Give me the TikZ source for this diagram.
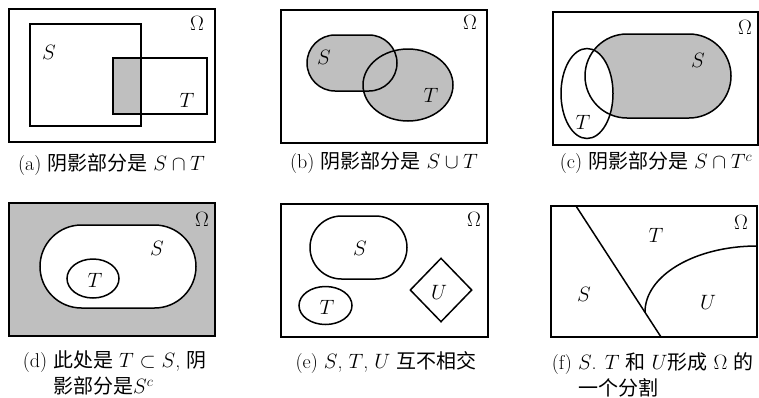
\documentclass[tikz,border=0pt]{standalone}
\usepackage{fontspec}
\newfontfamily\cjk{Noto Sans CJK SC}
\usetikzlibrary{shapes.geometric,shapes.misc}
\begin{document}
\begin{tikzpicture}[x=1pt, y=-1pt, line width=1.5pt, font=\fontsize{20}{26}\selectfont,
omega box/.style={draw,rectangle,inner sep=0pt,outer sep=0pt},
set box/.style={draw,rectangle,inner sep=0pt},
round set/.style={draw,rounded rectangle,inner sep=0pt},
oval set/.style={draw,ellipse,inner sep=0pt},
shaded/.style={fill=black!25},
set label/.style={inner sep=0pt},
caption/.style={inner sep=0pt,align=left}]
\useasboundingbox (0,0) rectangle (759,397);
% (a)
\begin{scope}
\node[omega box, minimum width=206pt, minimum height=133pt] (omA) at (112,75.5) {};
\node[shaded, inner sep=0pt, minimum width=28pt, minimum height=56pt] (aST) at (127,86) {};
\node[set box, minimum width=111pt, minimum height=102pt] (aS) at (85.5,75) {};
\node[set box, minimum width=94pt, minimum height=56pt] (aT) at (160,86) {};
\node[set label] (aSl) at (49,52) {$S$};
\node[set label] (aTl) at (187,100) {$T$};
\node[set label] (aOl) at (197,23) {$\Omega$};
\node[caption] (capA) at (111.5,165) {(a) {\cjk 阴影部分是} $S\cap T$};
\end{scope}
% (b)
\begin{scope}
\node[omega box, minimum width=206pt, minimum height=133pt] (omB) at (384,76.5) {};
\node[round set, draw=none, shaded, minimum width=90pt, minimum height=56pt] at (352,63) {};
\node[oval set, draw=none, shaded, minimum width=90pt, minimum height=72pt] at (408,85) {};
\node[round set, minimum width=90pt, minimum height=56pt] (bS) at (352,63) {};
\node[oval set, minimum width=90pt, minimum height=72pt] (bT) at (408,85) {};
\node[set label] (bSl) at (324,57) {$S$};
\node[set label] (bTl) at (431,95) {$T$};
\node[set label] (bOl) at (470,22) {$\Omega$};
\node[caption] (capB) at (384,163) {(b) {\cjk 阴影部分是} $S\cup T$};
\end{scope}
% (c)
\begin{scope}
\node[omega box, minimum width=205pt, minimum height=133pt] (omC) at (655.5,78.5) {};
\node[round set, draw=none, shaded, minimum width=146pt, minimum height=84pt] at (658,76) {};
\node[oval set, draw=none, fill=white, minimum width=52pt, minimum height=90pt] at (587,93.5) {};
\node[round set, minimum width=146pt, minimum height=84pt] (cS) at (658,76) {};
\node[oval set, minimum width=52pt, minimum height=90pt] (cT) at (587,93.5) {};
\node[set label] (cSl) at (698,60) {$S$};
\node[set label] (cTl) at (583,122) {$T$};
\node[set label] (cOl) at (745,27) {$\Omega$};
\node[caption] (capC) at (656,163) {(c) {\cjk 阴影部分是} $S\cap T^c$};
\end{scope}
% (d)
\begin{scope}
\node[omega box, shaded, minimum width=206pt, minimum height=133pt] (omD) at (112,269.5) {};
\node[round set, fill=white, minimum width=156pt, minimum height=83pt] (dS) at (118,266.5) {};
\node[oval set, minimum width=52pt, minimum height=39pt] (dT) at (93,278.5) {};
\node[set label] (dSl) at (157,248) {$S$};
\node[set label] (dTl) at (95,280) {$T$};
\node[set label] (dOl) at (202,219) {$\Omega$};
\node[caption, anchor=west] (capD) at (22,375) {(d) {\cjk 此处是} $T\subset S$, {\cjk 阴}\\\phantom{(d) }{\cjk 影部分是}$S^c$};
\end{scope}
% (e)
\begin{scope}
\node[omega box, minimum width=207pt, minimum height=133pt] (omE) at (384.5,270.5) {};
\node[round set, minimum width=97pt, minimum height=63pt] (eS) at (358.5,247.5) {};
\node[oval set, minimum width=53pt, minimum height=38pt] (eT) at (325.5,305.5) {};
\node[draw, diamond, inner sep=0pt, minimum width=62pt, minimum height=64pt] (eU) at (441,290) {};
\node[set label] (eSl) at (360,248) {$S$};
\node[set label] (eTl) at (327,307) {$T$};
\node[set label] (eUl) at (439,292) {$U$};
\node[set label] (eOl) at (474,219) {$\Omega$};
\node[caption] (capE) at (386,363) {(e) $S$, $T$, $U$ {\cjk 互不相交}};
\end{scope}
% (f)
\begin{scope}
\node[omega box, minimum width=206pt, minimum height=131pt] (omF) at (654,271.5) {};
\coordinate (fTop) at (576,206);
\coordinate (fBot) at (661,337);
\coordinate (fFoot) at (645,312);
\coordinate (fRight) at (757,246);
\draw (fTop) -- (fBot);
\draw (fFoot) .. controls (645,275.5) and (695,246) .. (fRight);
\node[set label] (fTl) at (656,235) {$T$};
\node[set label] (fSl) at (584,294) {$S$};
\node[set label] (fUl) at (708,302) {$U$};
\node[set label] (fOl) at (741,222) {$\Omega$};
\node[caption, anchor=west] (capF) at (551,377) {(f) $S$. $T$ {\cjk 和} $U${\cjk 形成} $\Omega$ {\cjk 的}\\\phantom{(f) }{\cjk 一个分割}};
\end{scope}
\end{tikzpicture}
\end{document}
